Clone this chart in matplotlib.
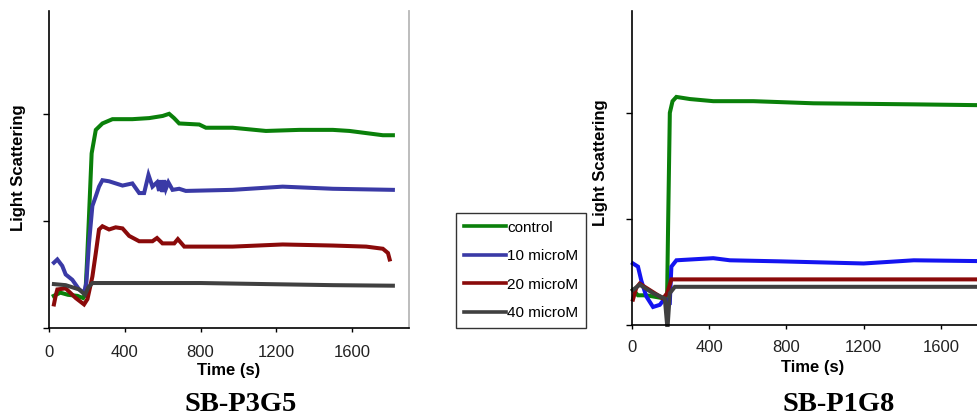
import matplotlib
matplotlib.use("Agg")
import matplotlib.pyplot as plt
from matplotlib.lines import Line2D

# ---------------- data (y in arbitrary units) ----------------
labels = ["control", "10 microM", "20 microM", "40 microM"]
x_ticks = [0, 400, 800, 1200, 1600]

# Left panel: SB-P3G5
tL_ctrl = [25, 60, 100, 150, 180, 192, 200, 211, 225, 247, 282, 335, 440, 529, 600, 634, 660, 687, 793, 828, 969, 1145, 1322, 1498, 1586, 1674, 1762, 1815]
yL_ctrl = [0.30, 0.33, 0.31, 0.30, 0.28, 0.32, 0.60, 1.04, 1.63, 1.85, 1.91, 1.95, 1.95, 1.96, 1.98, 2.00, 1.96, 1.91, 1.90, 1.87, 1.87, 1.84, 1.85, 1.85, 1.84, 1.82, 1.80, 1.80]

tL_10 = [26, 44, 70, 88, 123, 159, 185, 197, 211, 229, 247, 264, 282, 317, 388, 440, 476, 502, 525, 546, 570, 581, 590, 599, 608, 617, 630, 652, 687, 722, 969, 1233, 1498, 1815]
yL_10 = [0.61, 0.64, 0.58, 0.50, 0.45, 0.36, 0.33, 0.42, 0.79, 1.14, 1.23, 1.32, 1.38, 1.37, 1.33, 1.35, 1.26, 1.26, 1.43, 1.32, 1.36, 1.28, 1.38, 1.27, 1.38, 1.30, 1.36, 1.29, 1.30, 1.28, 1.29, 1.32, 1.30, 1.29]

tL_20 = [26, 35, 44, 88, 141, 185, 203, 229, 247, 264, 282, 317, 352, 388, 423, 476, 546, 570, 599, 661, 680, 714, 969, 1233, 1498, 1674, 1762, 1789, 1798]
yL_20 = [0.22, 0.30, 0.36, 0.37, 0.28, 0.22, 0.27, 0.48, 0.70, 0.92, 0.95, 0.92, 0.94, 0.93, 0.86, 0.81, 0.81, 0.84, 0.79, 0.79, 0.83, 0.76, 0.76, 0.78, 0.77, 0.76, 0.74, 0.70, 0.64]

tL_40 = [26, 88, 159, 190, 208, 229, 440, 800, 1145, 1500, 1815]
yL_40 = [0.41, 0.40, 0.36, 0.31, 0.38, 0.42, 0.42, 0.42, 0.41, 0.40, 0.395]

# Right panel: SB-P1G8
tR_ctrl = [5, 31, 74, 170, 182, 187, 196, 210, 230, 300, 421, 629, 940, 1460, 1900]
yR_ctrl = [0.33, 0.28, 0.28, 0.25, 0.28, 0.93, 2.00, 2.11, 2.15, 2.13, 2.11, 2.11, 2.09, 2.08, 2.07]

tR_10 = [5, 31, 48, 74, 109, 144, 170, 196, 204, 230, 421, 507, 767, 1200, 1460, 1900]
yR_10 = [0.58, 0.55, 0.42, 0.27, 0.17, 0.19, 0.25, 0.22, 0.55, 0.61, 0.63, 0.61, 0.60, 0.58, 0.61, 0.60]

tR_20 = [5, 22, 40, 74, 161, 182, 204, 421, 1900]
yR_20 = [0.24, 0.35, 0.39, 0.35, 0.25, 0.30, 0.43, 0.43, 0.43]

tR_40 = [5, 40, 109, 170, 182, 185, 196, 222, 767, 1460, 1900]
yR_40 = [0.33, 0.38, 0.30, 0.25, 0.0, 0.0, 0.30, 0.36, 0.36, 0.36, 0.36]

titles = ["SB-P3G5", "SB-P1G8"]

# ---------------- style ----------------
W, H = 977, 415
green = "#0a800a"
blueL = "#3a3aa6"
blueR = "#1414f0"
red = "#8a0a0a"
dark = "#404040"
lw = 2.9
sans = ["Liberation Sans", "DejaVu Sans"]
serif = ["Liberation Serif", "DejaVu Serif"]

fig = plt.figure(figsize=(W / 100, H / 100), dpi=100)

def px_rect(x0, x1, ytop, ybot):
    return [x0 / W, (H - ybot) / H, (x1 - x0) / W, (ybot - ytop) / H]

axL = fig.add_axes(px_rect(49, 409, 11, 328))
axR = fig.add_axes(px_rect(632, 632 + 1900 * 0.193, 11, 325))

panels = [
    (axL, [(tL_ctrl, yL_ctrl, green), (tL_10, yL_10, blueL), (tL_20, yL_20, red), (tL_40, yL_40, dark)], 9.5),
    (axR, [(tR_ctrl, yR_ctrl, green), (tR_10, yR_10, blueR), (tR_20, yR_20, red), (tR_40, yR_40, dark)], 7.5),
]

for ax, series, pad in panels:
    for t, y, c in series:
        ax.plot(t, y, color=c, lw=lw, solid_joinstyle="miter", clip_on=False)
    ax.set_xlim(0, 1900)
    ax.set_ylim(0, 2.96)
    ax.set_xticks(x_ticks)
    ax.set_xticklabels([str(v) for v in x_ticks], fontfamily=sans, fontsize=12, color="#222222")
    ax.set_yticks([0, 1, 2])
    ax.set_yticklabels([])
    ax.tick_params(axis="x", direction="out", length=3, width=1, pad=pad)
    ax.tick_params(axis="y", direction="out", length=4, width=1)
    ax.spines["top"].set_visible(False)
    ax.spines["right"].set_color("#b8b8b8")
    ax.spines["right"].set_linewidth(1.3)
    ax.spines["left"].set_linewidth(1.2)
    ax.spines["bottom"].set_linewidth(1.2)

# axis labels
fs_lab = 12
fig.text(19 / W, 1 - 168 / H, "Light Scattering", rotation=90, ha="center", va="center",
         fontfamily=sans, fontweight="bold", fontsize=fs_lab)
fig.text(600 / W, 1 - 163 / H, "Light Scattering", rotation=90, ha="center", va="center",
         fontfamily=sans, fontweight="bold", fontsize=fs_lab)
fig.text(229 / W, 1 - 371 / H, "Time (s)", ha="center", va="center",
         fontfamily=sans, fontweight="bold", fontsize=fs_lab)
fig.text(813 / W, 1 - 367 / H, "Time (s)", ha="center", va="center",
         fontfamily=sans, fontweight="bold", fontsize=fs_lab)

# panel titles
fig.text(241 / W, 1 - 404 / H, titles[0], ha="center", va="center",
         fontfamily=serif, fontweight="bold", fontsize=20.5)
fig.text(839 / W, 1 - 404 / H, titles[1], ha="center", va="center",
         fontfamily=serif, fontweight="bold", fontsize=20.5)

# legend
handles = [Line2D([], [], color=c, lw=2.6) for c in [green, blueL, red, dark]]
leg = fig.legend(handles, labels, loc="upper left",
                 bbox_to_anchor=(456 / W, 1 - 213 / H), bbox_transform=fig.transFigure,
                 frameon=True, fancybox=False, shadow=False,
                 prop={"family": sans, "size": 11},
                 handlelength=2.8, handletextpad=0.05, labelspacing=0.95,
                 borderpad=0.5, borderaxespad=0.0)
leg.get_frame().set_edgecolor("black")
leg.get_frame().set_linewidth(1.0)

fig.savefig("out.png", dpi=100)
